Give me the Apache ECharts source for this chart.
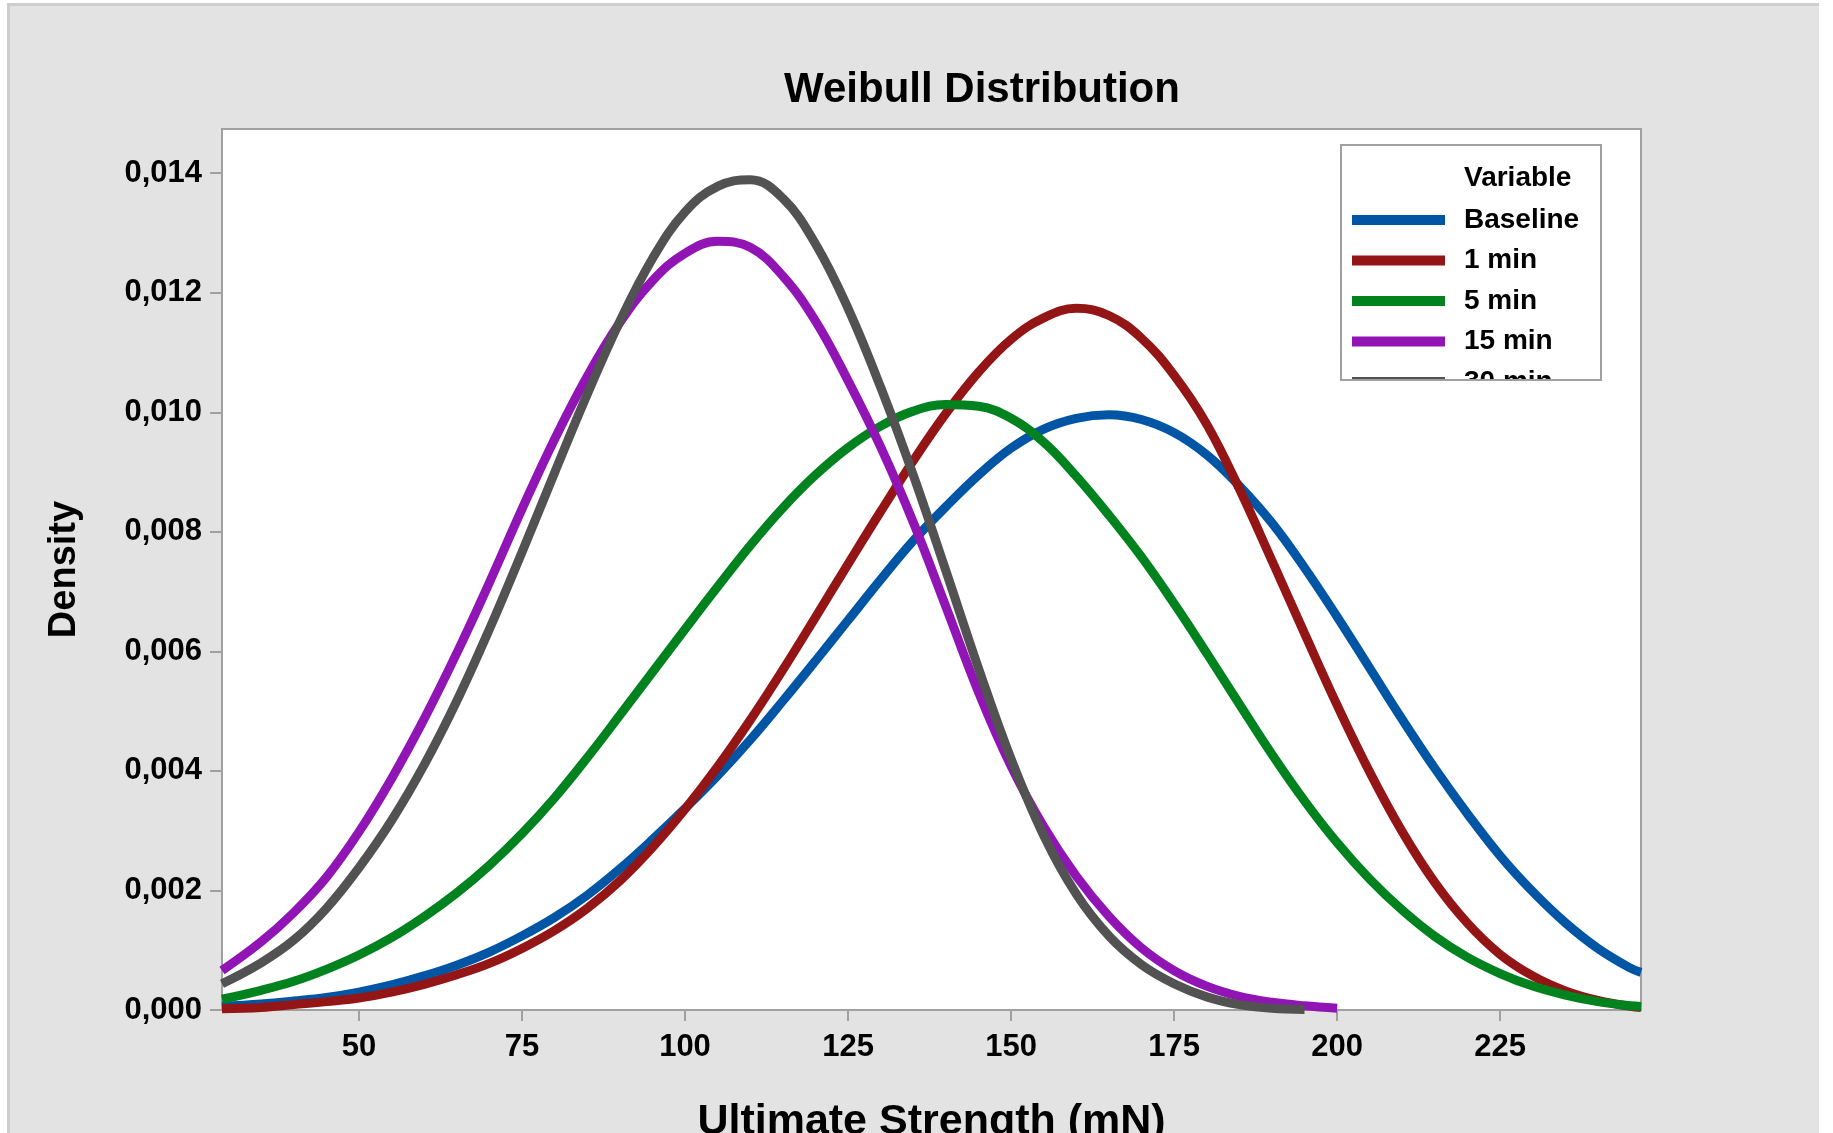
<!DOCTYPE html>
<html>
<head>
<meta charset="utf-8">
<title>Weibull Distribution</title>
<script src="https://cdn.jsdelivr.net/npm/echarts@6/dist/echarts.min.js"></script>
<style>
    html, body { margin: 0; padding: 0; background: #fff; }
    .frame {
        position: absolute; left: 7px; top: 3px; width: 1812px; height: 1130px;
        background: #e3e3e3; border-top: 3px solid #cdcdcd; border-left: 3px solid #cdcdcd;
        box-sizing: border-box;
    }
    #chart { position: absolute; left: 0; top: 0; width: 1833px; height: 1133px; }
</style>
</head>
<body>
<div class="frame"></div>
<div id="chart"></div>
<script>
// 横轴取值点 (mN)
var strength = [29, 35, 40, 45, 50, 55, 60, 65, 70, 75, 80, 85, 90, 95, 100,
    105, 110, 115, 120, 125, 130, 135, 140, 145, 150, 155, 160, 165, 170, 175, 180,
    185, 190, 195, 200, 205, 210, 215, 220, 225, 230, 235, 240, 245, 246.6];

// 各曲线的密度读数
var baseline = [0.00006, 0.00010, 0.00015, 0.00021, 0.00030, 0.00042, 0.00057, 0.00075, 0.00097,
    0.00124, 0.00155, 0.00192, 0.00236, 0.00285, 0.00337, 0.00392, 0.00452, 0.00517, 0.00584,
    0.00652, 0.00720, 0.00785, 0.00842, 0.00895, 0.00940, 0.00972, 0.00990, 0.00996, 0.00988,
    0.00966, 0.00929, 0.00877, 0.00815, 0.00740, 0.00658, 0.00572, 0.00486, 0.00404, 0.00328,
    0.00258, 0.00198, 0.00146, 0.00103, 0.00070, 0.00063];
var min1 = [0.00002, 0.00004, 0.00009, 0.00014, 0.00020, 0.00030, 0.00043, 0.00059, 0.00078,
    0.00103, 0.00133, 0.00170, 0.00216, 0.00272, 0.00336, 0.00407, 0.00485, 0.00569, 0.00657,
    0.00746, 0.00834, 0.00919, 0.00998, 0.01067, 0.01122, 0.01158, 0.01174, 0.01162, 0.01124,
    0.01062, 0.00980, 0.00872, 0.00752, 0.00630, 0.00510, 0.00398, 0.00298, 0.00213, 0.00145,
    0.00093, 0.00057, 0.00032, 0.00016, 0.00006, 0.00004];
var min5 = [0.00018, 0.00033, 0.00048, 0.00068, 0.00092, 0.00121, 0.00156, 0.00196, 0.00242,
    0.00295, 0.00355, 0.00422, 0.00493, 0.00565, 0.00637, 0.00708, 0.00777, 0.00840, 0.00895,
    0.00941, 0.00977, 0.01002, 0.01013, 0.01010, 0.00990, 0.00950, 0.00893, 0.00828, 0.00758,
    0.00680, 0.00597, 0.00512, 0.00428, 0.00350, 0.00280, 0.00219, 0.00167, 0.00123, 0.00088,
    0.00061, 0.00040, 0.00025, 0.00014, 0.00007, 0.00006];
var min15 = [0.00066, 0.00114, 0.00163, 0.00222, 0.00298, 0.00387, 0.00487, 0.00597, 0.00715,
    0.00838, 0.00955, 0.01060, 0.01150, 0.01220, 0.01266, 0.01286, 0.01276, 0.01228, 0.01153,
    0.01053, 0.00942, 0.00816, 0.00675, 0.00532, 0.00408, 0.00307, 0.00224, 0.00157, 0.00104,
    0.00066, 0.00040, 0.00023, 0.00013, 0.00007, 0.00003, null, null, null, null,
    null, null, null, null, null, null];
var min30 = [0.00044, 0.00079, 0.00117, 0.00170, 0.00238, 0.00317, 0.00410, 0.00517, 0.00637,
    0.00766, 0.00899, 0.01030, 0.01152, 0.01257, 0.01335, 0.01378, 0.01389, 0.01358, 0.01282,
    0.01174, 0.01042, 0.00895, 0.00735, 0.00572, 0.00420, 0.00292, 0.00194, 0.00124, 0.00076,
    0.00044, 0.00022, 0.00009, 0.00003, 0.00001, null, null, null, null, null,
    null, null, null, null, null, null];

var seriesNames = ['Baseline', '1 min', '5 min', '15 min', '30 min'];
var seriesValues = [baseline, min1, min5, min15, min30];
var colors = ['#0055a4', '#941516', '#00821f', '#9114b5', '#525252'];

// 刻度
var xTicks = [50, 75, 100, 125, 150, 175, 200, 225];
var yTicks = [0, 0.002, 0.004, 0.006, 0.008, 0.010, 0.012, 0.014];

(function() {
    var font = '"Liberation Sans", Arial, sans-serif';
    var axisGray = '#a0a0a0';
    var myChart = echarts.init(document.getElementById('chart'));

    function toPairs(ys) {
        var out = [];
        for (var i = 0; i < strength.length; i++) {
            if (ys[i] != null) out.push([strength[i], ys[i]]);
        }
        return out;
    }

    var series = seriesNames.map(function(name, i) {
        return {
            name: name,
            type: 'line',
            data: toPairs(seriesValues[i]),
            symbol: 'none',
            smooth: 0.4,
            lineStyle: { width: 9, color: colors[i] },
            itemStyle: { color: colors[i] },
            emphasis: { disabled: true }
        };
    });

    var option = {
        backgroundColor: 'transparent',
        animation: false,
        color: colors,
        title: [
            {
                text: 'Weibull Distribution',
                left: 982, top: 69, textAlign: 'center', padding: 0,
                textStyle: { fontSize: 42, fontWeight: 'bold', color: '#000', fontFamily: font }
            },
            {
                text: 'Variable',
                left: 1464, top: 164, padding: 0,
                textStyle: { fontSize: 28, fontWeight: 'bold', color: '#000', fontFamily: font }
            }
        ],
        legend: {
            orient: 'vertical',
            left: 1352, top: 205,
            padding: 0,
            itemWidth: 93, itemHeight: 10, itemGap: 10.5,
            icon: 'rect',
            selectedMode: false,
            data: seriesNames,
            textStyle: {
                fontSize: 28, fontWeight: 'bold', color: '#000', fontFamily: font,
                lineHeight: 30, padding: [0, 0, 0, 14]
            }
        },
        grid: {
            left: 222, top: 129, width: 1419, height: 881,
            show: true, backgroundColor: '#fff',
            borderColor: axisGray, borderWidth: 2,
            containLabel: false, outerBoundsMode: 'none'
        },
        xAxis: {
            type: 'value', min: 29, max: 246.6,
            name: 'Ultimate Strength (mN)', nameLocation: 'middle', nameGap: 91,
            nameTextStyle: { fontSize: 43, fontWeight: 'bold', color: '#000', fontFamily: font },
            axisLine: { show: true, lineStyle: { color: axisGray, width: 2 } },
            axisTick: { show: true, customValues: xTicks, length: 11, lineStyle: { color: axisGray, width: 2 } },
            axisLabel: { customValues: xTicks, margin: 22, fontSize: 31, fontWeight: 'bold', color: '#000', fontFamily: font },
            splitLine: { show: false }
        },
        yAxis: {
            type: 'value', min: 0, max: 0.01474,
            name: 'Density', nameLocation: 'middle', nameGap: 138, nameRotate: 90,
            nameTextStyle: { fontSize: 38, fontWeight: 'bold', color: '#000', fontFamily: font },
            axisLine: { show: true, lineStyle: { color: axisGray, width: 2 } },
            axisTick: { show: true, customValues: yTicks, length: 12, lineStyle: { color: axisGray, width: 2 } },
            axisLabel: {
                customValues: yTicks, margin: 20, fontSize: 31, fontWeight: 'bold', color: '#000', fontFamily: font,
                formatter: function(v) { return v.toFixed(3).replace('.', ','); }
            },
            splitLine: { show: false }
        },
        // 图例框：下沿把最后一项截掉一半
        graphic: [
            {
                type: 'rect', z: 100,
                shape: { x: 1339, y: 381, width: 265, height: 30 },
                style: { fill: '#fff' }
            },
            {
                type: 'rect', z: 101,
                shape: { x: 1341, y: 145, width: 260, height: 235 },
                style: { fill: null, stroke: axisGray, lineWidth: 2 }
            }
        ],
        series: series
    };

    myChart.setOption(option);
    window.addEventListener('resize', function() {
        myChart.resize();
    });
})();
</script>
</body>
</html>
